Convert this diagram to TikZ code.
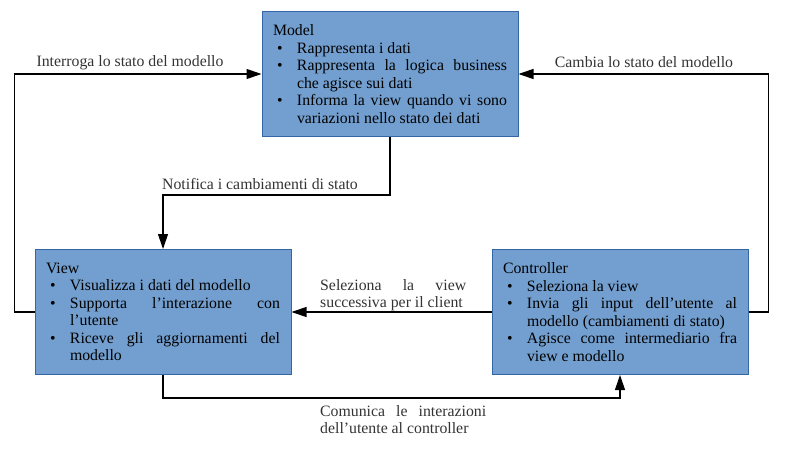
\documentclass[tikz,border=0pt]{standalone}
\usepackage{fontspec}
\setmainfont{Liberation Serif}
\usetikzlibrary{arrows.meta}
\definecolor{boxfill}{HTML}{729FCF}
\definecolor{boxline}{HTML}{3465A4}
\definecolor{lblcol}{HTML}{333333}
\setlength\parindent{0pt}
\newcommand\bitem{\par\noindent\hangindent=24pt\hangafter=1\makebox[24pt][l]{\hspace{4pt}\textbullet}}
\begin{document}
\begin{tikzpicture}[x=1pt,y=-1pt,font=\fontsize{15.8}{17.5}\selectfont,
  box/.style={draw=boxline, fill=boxfill, line width=1pt, text width=234pt,
    inner xsep=11pt, inner ysep=0pt, minimum height=125pt, align=justify},
  arr/.style={line width=1.1pt, -{Triangle[length=15pt,width=10pt]}},
  lbl/.style={text=lblcol, inner sep=0pt}]
\useasboundingbox (0,0) rectangle (794,454);

\node[box] (model) at (390,74) {Model\bitem Rappresenta i dati\bitem Rappresenta la logica business\linebreak che agisce sui dati\bitem Informa la view quando vi sono\linebreak variazioni nello stato dei dati\par};

\node[box] (view) at (163,312) {View\bitem Visualizza i dati del modello\bitem Supporta l'interazione con\linebreak l'utente\bitem Riceve gli aggiornamenti del\linebreak modello\par};

\node[box] (ctrl) at (620,312) {Controller\bitem Seleziona la view\bitem Invia gli input dell'utente al\linebreak modello (cambiamenti di stato)\bitem Agisce come intermediario fra\linebreak view e modello\par};

\draw[arr] (view.west) -- ++(-20,0) |- (model.west);
\draw[arr] (ctrl.east) -- ++(20,0) |- (model.east);
\draw[arr] (model.south) -- ++(0,58) -| (view.north);
\draw[arr] (ctrl.west) -- (view.east);
\draw[arr] (view.south) -- ++(0,23) -| (ctrl.south);

\node[lbl, anchor=base] (l1) at (130,67) {Interroga lo stato del modello};
\node[lbl, anchor=base] (l2) at (644,68) {Cambia lo stato del modello};
\node[lbl, anchor=base] (l3) at (260,190) {Notifica i cambiamenti di stato};
\node[lbl, anchor=north west, text width=146pt, align=justify] (l4) at (320,279) {Seleziona la view\linebreak successiva per il client\par};
\node[lbl, anchor=north west, text width=166pt, align=justify] (l5) at (320,405) {Comunica le interazioni\linebreak dell'utente al controller\par};
\end{tikzpicture}
\end{document}
